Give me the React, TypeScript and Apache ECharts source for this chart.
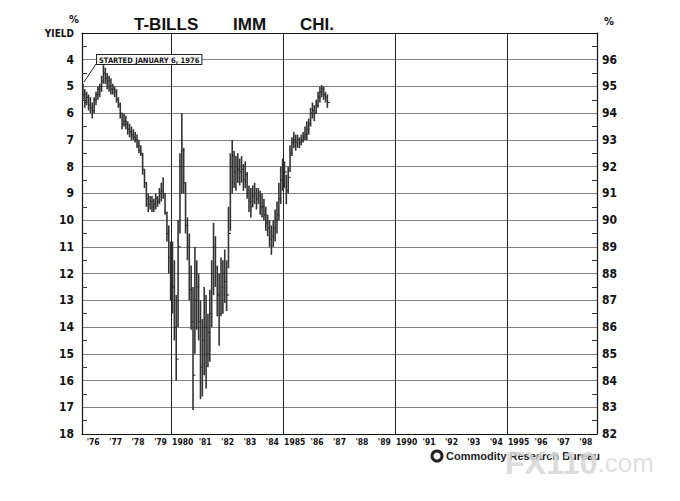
import React, { useEffect, useRef } from 'react';
import * as echarts from 'echarts';

// ---- data ----
const yearLabels = ["'76", "'77", "'78", "'79", '1980', "'81", "'82", "'83", "'84", '1985', "'86", "'87", "'88", "'89", '1990', "'91", "'92", "'93", "'94", '1995', "'96", "'97", "'98"];
const dataYears = [1976, 1977, 1978, 1979, 1980, 1981, 1982, 1983, 1984, 1985, 1986];
const decadeLines = [1980, 1985, 1990, 1995];

// monthly yield ranges (%), Jan 1976 .. Dec 1986
const lowYield = [
  4.9, 5.1, 5.2, 5.3, 5.4, 5.6, 5.4, 5.2, 5.0, 4.9, 4.6, 4.2,
  4.3, 4.5, 4.6, 4.7, 4.9, 5.0, 5.1, 5.4, 5.6, 6.0, 6.0, 6.1,
  6.3, 6.4, 6.5, 6.6, 6.7, 6.8, 7.0, 7.2, 7.5, 8.1, 8.6, 9.0,
  9.1, 9.1, 9.2, 9.0, 9.1, 8.8, 8.6, 8.4, 9.0, 9.7, 10.2, 10.8,
  10.8, 11.5, 12.8, 10.0, 7.5, 6.0, 7.3, 8.6, 9.9, 10.5, 11.7, 12.5,
  11.0, 11.5, 12.0, 13.0, 13.7, 12.5, 12.8, 13.5, 12.6, 11.5, 10.1, 10.6,
  11.7, 12.0, 11.4, 11.5, 11.1, 11.5, 9.5, 7.5, 7.0, 7.4, 7.6, 7.5,
  7.7, 7.6, 7.9, 7.8, 8.2, 8.7, 8.8, 8.7, 8.6, 8.8, 8.8, 8.9,
  9.0, 9.2, 9.5, 9.8, 10.0, 10.2, 10.0, 9.6, 9.3, 8.6, 8.0, 7.7,
  7.8, 8.3, 8.0, 7.2, 6.9, 6.7, 6.8, 6.8, 6.9, 6.8, 6.7, 6.5,
  6.3, 6.2, 5.8, 5.6, 5.7, 5.5, 5.2, 5.0, 4.95, 5.0, 5.2, 5.3,
];
const highYield = [
  5.5, 5.8, 5.7, 5.9, 6.0, 6.2, 6.0, 5.7, 5.5, 5.4, 5.2, 4.9,
  4.9, 5.1, 5.2, 5.3, 5.3, 5.4, 5.6, 5.8, 6.2, 6.6, 6.5, 6.6,
  6.8, 6.9, 7.0, 7.0, 7.1, 7.3, 7.5, 7.6, 8.3, 8.8, 9.5, 9.7,
  9.6, 9.7, 9.7, 9.6, 9.5, 9.4, 9.3, 9.2, 9.8, 10.8, 12.0, 13.0,
  13.5, 14.5, 16.0, 14.0, 10.5, 9.0, 9.0, 10.5, 11.5, 13.0, 14.1, 17.1,
  15.0, 14.1, 14.5, 16.7, 16.6, 15.8, 16.3, 15.5, 15.3, 14.0, 12.8, 12.5,
  13.6, 14.7, 13.6, 13.5, 13.1, 13.4, 11.8, 10.4, 9.0, 8.8, 8.9, 8.6,
  8.7, 8.6, 8.9, 8.8, 9.2, 9.7, 9.9, 9.5, 9.4, 9.6, 9.4, 9.8,
  9.9, 10.0, 10.4, 10.6, 11.0, 11.3, 11.0, 10.8, 10.5, 10.0, 9.4, 8.9,
  8.8, 9.4, 9.0, 8.2, 7.6, 7.3, 7.4, 7.3, 7.3, 7.2, 7.1, 7.0,
  7.0, 6.8, 6.5, 6.2, 6.3, 6.0, 5.8, 5.6, 5.4, 5.5, 5.6, 5.8,
];
const closeYield = [
  5.3, 5.6, 5.4, 5.7, 5.8, 5.9, 5.5, 5.3, 5.1, 5.0, 4.8, 4.5,
  4.7, 4.8, 5.0, 5.1, 5.1, 5.2, 5.5, 5.7, 6.0, 6.4, 6.3, 6.4,
  6.6, 6.7, 6.8, 6.9, 7.0, 7.2, 7.4, 7.5, 8.1, 8.6, 9.2, 9.4,
  9.3, 9.5, 9.4, 9.2, 9.3, 9.0, 8.9, 9.0, 9.7, 10.5, 11.4, 11.9,
  12.5, 14.0, 15.2, 11.0, 8.0, 7.4, 8.6, 10.2, 11.0, 12.6, 13.8, 15.8,
  13.0, 12.5, 13.8, 15.5, 14.5, 14.0, 15.0, 14.2, 13.5, 12.0, 11.0, 11.8,
  12.8, 13.5, 12.5, 12.0, 12.3, 12.8, 10.5, 8.0, 7.6, 8.2, 8.0, 8.1,
  8.2, 8.1, 8.5, 8.3, 9.0, 9.3, 9.5, 9.1, 9.0, 9.2, 9.1, 9.5,
  9.5, 9.8, 10.1, 10.3, 10.7, 10.6, 10.3, 10.0, 9.8, 9.2, 8.5, 8.2,
  8.2, 8.9, 8.4, 7.5, 7.1, 7.0, 7.1, 7.0, 7.1, 7.0, 6.9, 6.8,
  6.6, 6.4, 6.0, 5.9, 6.0, 5.7, 5.4, 5.2, 5.1, 5.3, 5.4, 5.6,
];

const NARROW = "'Liberation Sans Narrow', 'DejaVu Sans Condensed', 'Liberation Sans', sans-serif";
const SANS = "'Liberation Sans', Arial, sans-serif";

export default function App() {
  const ref = useRef<HTMLDivElement>(null);
  useEffect(() => {
    document.body.style.margin = '0';
    if (!ref.current) return;
    const chart = echarts.init(ref.current, undefined, { renderer: 'svg' });

    const seriesData: number[][] = [];
    dataYears.forEach((yr, yi) => {
      for (let m = 0; m < 12; m++) {
        const i = yi * 12 + m;
        if (i >= lowYield.length) break;
        seriesData.push([yr + (m + 0.5) / 12, lowYield[i], highYield[i], closeYield[i]]);
      }
    });

    const option: any = {
      animation: false,
      backgroundColor: '#fff',
      grid: { left: 82, right: 83, top: 33, bottom: 67 },
      xAxis: [
        {
          type: 'category', data: yearLabels, position: 'bottom', boundaryGap: true,
          axisLine: { lineStyle: { color: '#111', width: 1.2 } },
          axisTick: { inside: true, length: 5, interval: 0, lineStyle: { color: '#222' } },
          axisLabel: { interval: 0, fontSize: 8.5, fontWeight: 'bold', fontFamily: NARROW, color: '#111', margin: 3 },
          splitLine: { show: false },
        },
        {
          type: 'category', data: yearLabels, position: 'top', boundaryGap: true,
          axisLine: { lineStyle: { color: '#111', width: 1.2 } },
          axisTick: { inside: true, length: 5, interval: 0, lineStyle: { color: '#222' } },
          axisLabel: { show: false },
          splitLine: { show: false },
        },
        { type: 'value', min: 1976, max: 1999, show: false },
      ],
      yAxis: [
        {
          type: 'value', min: 3, max: 18, interval: 1, inverse: true, position: 'left',
          axisLine: { show: true, lineStyle: { color: '#111', width: 1.2 } },
          axisTick: { show: false, inside: true },
          minorTick: { show: true, splitNumber: 2, length: 5, lineStyle: { color: '#333' } },
          axisLabel: {
            fontSize: 12, fontWeight: 'bold', fontFamily: NARROW, color: '#111', margin: 8,
            formatter: (v: number) => (v === 3 ? '{s|YIELD}' : String(v)),
            rich: { s: { fontSize: 10, fontWeight: 'bold', fontFamily: NARROW, color: '#111' } },
          },
          splitLine: { show: true, lineStyle: { color: '#808080', width: 1 } },
        },
        {
          type: 'value', min: 3, max: 18, interval: 1, inverse: true, position: 'right',
          axisLine: { show: true, lineStyle: { color: '#111', width: 1.2 } },
          axisTick: { show: false, inside: true },
          minorTick: { show: true, splitNumber: 2, length: 5, lineStyle: { color: '#333' } },
          axisLabel: {
            fontSize: 12, fontWeight: 'bold', fontFamily: NARROW, color: '#111', margin: 5,
            formatter: (v: number) => (v === 3 ? '' : String(100 - v)),
          },
          splitLine: { show: false },
        },
      ],
      series: [
        {
          type: 'custom',
          xAxisIndex: 2,
          yAxisIndex: 0,
          encode: { x: 0, y: [1, 2, 3] },
          data: seriesData,
          renderItem: (params: any, api: any) => {
            const x = api.value(0);
            const top = api.coord([x, api.value(1)]);
            const bot = api.coord([x, api.value(2)]);
            const cl = api.coord([x, api.value(3)]);
            return {
              type: 'group',
              children: [
                { type: 'line', shape: { x1: top[0], y1: top[1], x2: bot[0], y2: bot[1] }, style: { stroke: '#333', lineWidth: 1.6 } },
                { type: 'line', shape: { x1: cl[0], y1: cl[1], x2: cl[0] + 2.5, y2: cl[1] }, style: { stroke: '#222', lineWidth: 1 } },
              ],
            };
          },
          markLine: {
            silent: true,
            symbol: ['none', 'none'],
            label: { show: false },
            lineStyle: { color: '#222', type: 'solid', width: 1 },
            data: decadeLines.map((y) => ({ xAxis: y })),
          },
          z: 5,
        },
      ],
      graphic: [
        { type: 'text', left: 69, top: 14, style: { text: '%', fontSize: 11, fontWeight: 'bold', fontFamily: NARROW, fill: '#111' } },
        { type: 'text', left: 604, top: 16, style: { text: '%', fontSize: 11, fontWeight: 'bold', fontFamily: NARROW, fill: '#111' } },
        { type: 'text', left: 134, top: 16, style: { text: 'T-BILLS', fontSize: 17, fontWeight: 'bold', fontFamily: SANS, fill: '#111' } },
        { type: 'text', left: 233, top: 16, style: { text: 'IMM', fontSize: 17, fontWeight: 'bold', fontFamily: SANS, fill: '#111' } },
        { type: 'text', left: 300, top: 16, style: { text: 'CHI.', fontSize: 17, fontWeight: 'bold', fontFamily: SANS, fill: '#111' } },
        {
          type: 'text', left: 96, top: 54, z: 20,
          style: {
            text: 'STARTED JANUARY 6, 1976', fontSize: 7.5, fontWeight: 'bold', fontFamily: NARROW, fill: '#111',
            backgroundColor: '#fff', borderColor: '#222', borderWidth: 1, padding: [1, 2, 0, 2],
          },
        },
        { type: 'line', z: 20, shape: { x1: 96, y1: 64, x2: 84, y2: 82 }, style: { stroke: '#222', lineWidth: 1 } },
        { type: 'circle', z: 20, shape: { cx: 437, cy: 456, r: 6.5 }, style: { fill: '#222' } },
        { type: 'circle', z: 21, shape: { cx: 437, cy: 456, r: 3.5 }, style: { fill: '#fff' } },
        { type: 'text', left: 446, top: 450, z: 20, style: { text: 'Commodity Research Bureau', fontSize: 11, fontWeight: 'bold', fontFamily: SANS, fill: '#222' } },
        {
          type: 'text', left: 505, top: 447, z: 30,
          style: {
            text: '{a|FX110}{b|.com}',
            rich: {
              a: { fontSize: 32, fontWeight: 'bold', fontFamily: SANS, fill: 'rgba(215,215,215,0.9)' },
              b: { fontSize: 26, fontFamily: SANS, fill: 'rgba(220,220,220,0.9)' },
            },
          },
        },
      ],
    };
    chart.setOption(option);
    return () => chart.dispose();
  }, []);
  return <div ref={ref} style={{ width: 680, height: 501 }} />;
}
